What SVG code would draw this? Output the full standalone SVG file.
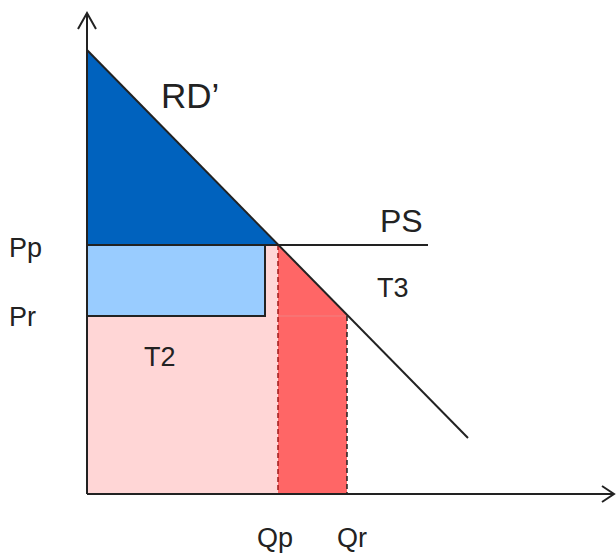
<svg xmlns="http://www.w3.org/2000/svg" width="616" height="557" viewBox="0 0 616 557">
<style>
text{font-family:"Liberation Sans",Arial,sans-serif;fill:#222}
.big{font-size:35px}
.ps{font-size:32px}
.mid{font-size:27px}
.ln{stroke:#222;stroke-width:2;fill:none}
</style>
<rect width="616" height="557" fill="#fff"/>
<g id="areas">
<rect id="T2" x="87" y="245" width="191" height="249" fill="#FFD6D6"/>
<polygon id="T3area" points="278,245 347,315 347,494 278,494" fill="#FF6666"/>
<line x1="278" y1="316" x2="347" y2="316" stroke="#F08080" stroke-width="1"/>
<rect id="rect-blue" x="87" y="245" width="178" height="71" fill="#99CCFF" stroke="#222" stroke-width="2"/>
<polygon id="tri-blue" points="87,50 87,245 278,245" fill="#0062BE"/>
</g>
<g id="connectors">
<line x1="278" y1="245" x2="278" y2="494" stroke="#A01818" stroke-width="1.5" stroke-dasharray="5,3"/>
<line x1="347" y1="316" x2="347" y2="494" stroke="#222" stroke-width="1.5" stroke-dasharray="5,3"/>
<line class="ln" x1="87" y1="50" x2="468" y2="438"/>
<line class="ln" x1="87" y1="245" x2="428" y2="245"/>
<line class="ln" x1="87" y1="494" x2="87" y2="13"/>
<polyline class="ln" points="78,29 87,13 96,29"/>
<line class="ln" x1="87" y1="494" x2="614" y2="494"/>
<polyline class="ln" points="602,486 614,494 602,502"/>
</g>
<g id="labels">
<text class="big" x="161" y="108">RD’</text>
<text class="ps" x="380" y="232">PS</text>
<text class="mid" x="9" y="257">Pp</text>
<text class="mid" x="9" y="326">Pr</text>
<text class="mid" x="377" y="297">T3</text>
<text class="mid" x="144" y="366">T2</text>
<text class="mid" x="257" y="547">Qp</text>
<text class="mid" x="337" y="547">Qr</text>
</g>
</svg>
